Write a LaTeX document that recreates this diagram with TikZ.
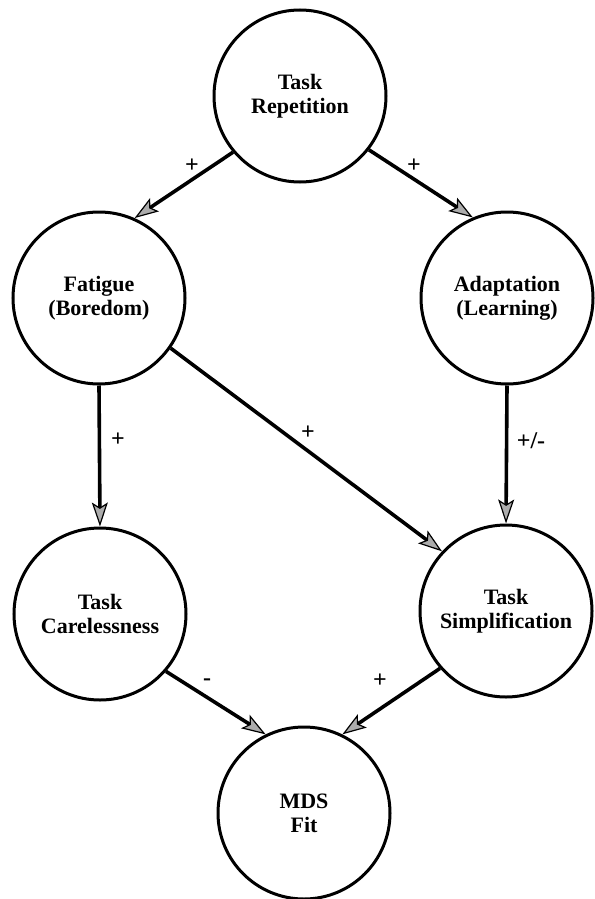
\documentclass[tikz,border=0pt]{standalone}
\usepackage{fontspec}
\setmainfont{Liberation Serif}
\usetikzlibrary{arrows.meta}
\begin{document}
\begin{tikzpicture}[x=1pt,y=-1pt,
  circ/.style={circle,draw,line width=3pt,minimum size=172pt,inner sep=0pt,align=center,
    font=\fontsize{22}{24}\selectfont\bfseries},
  conn/.style={line width=3.6pt,-{Stealth[length=24pt,width=16pt,inset=5pt,fill=gray!65,line width=1.2pt]}},
  lbl/.style={font=\fontsize{24}{26}\selectfont\bfseries}]
\useasboundingbox (0,0) rectangle (594,899);
\node[circ] (tr) at (300,96) {Task\\Repetition};
\node[circ] (fa) at (99,298) {Fatigue\\(Boredom)};
\node[circ] (ad) at (507,298) {Adaptation\\(Learning)};
\node[circ] (ca) at (100,614) {Task\\Carelessness};
\node[circ] (si) at (506,611) {Task\\Simplification};
\node[circ] (md) at (304,813) {MDS\\Fit};
\draw[conn] (tr.220) -- (fa.66);
\draw[conn] (tr.322) -- (ad.113);
\draw[conn] (fa.south) -- (ca.north);
\draw[conn] (fa.325) -- (si.137);
\draw[conn] (ad.south) -- (si.north);
\draw[conn] (ca.319) -- (md.116);
\draw[conn] (si.221) -- (md.64);
\node[lbl] (l1) at (192,166) {+};
\node[lbl] (l2) at (414,166) {+};
\node[lbl] (l3) at (118,440) {+};
\node[lbl] (l4) at (308,433) {+};
\node[lbl] (l5) at (531,441) {+/-};
\node[lbl] (l6) at (207,682) {-};
\node[lbl] (l7) at (380,681) {+};
\end{tikzpicture}
\end{document}
